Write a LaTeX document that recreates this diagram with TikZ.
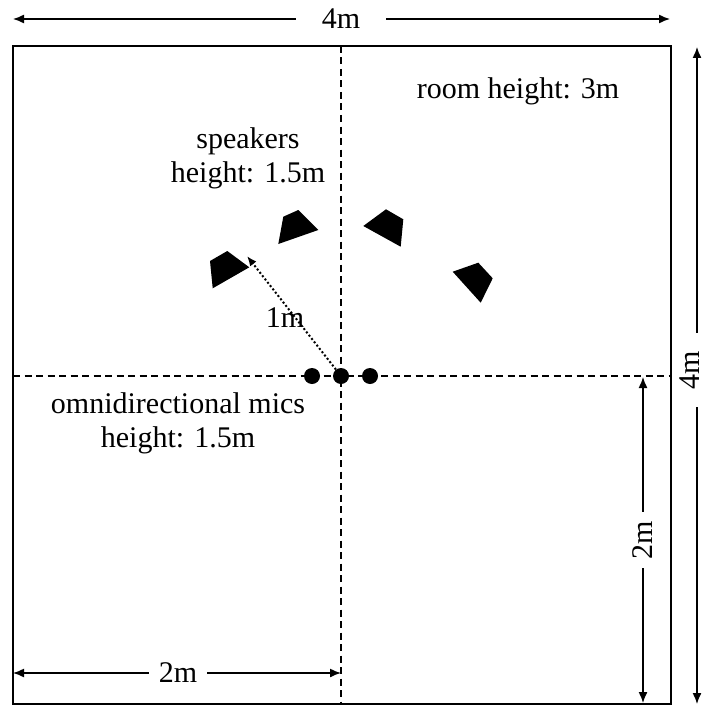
\documentclass[tikz,border=0pt]{standalone}
\usepackage{fontspec}
\setmainfont{Liberation Serif}
\usetikzlibrary{arrows.meta}

\begin{document}
\begin{tikzpicture}[x=1pt,y=-1pt,
  every node/.style={font=\fontsize{30}{34}\selectfont},
  dim/.style={line width=1.4pt,-{Latex[length=11pt,width=9pt]}},
  axis/.style={line width=1.8pt,dash pattern=on 7pt off 4.5pt},
  room/.style={line width=2.8pt},
  mic/.style={circle,fill,inner sep=0pt,minimum size=16pt},
  ray/.style={line width=2pt,dash pattern=on 2pt off 2.2pt,-{Latex[length=10pt,width=8pt]}}]
  \useasboundingbox (0,0) rectangle (701,706);
  % room outline and centre lines
  \coordinate (nw) at (13,46);
  \coordinate (se) at (671,704);
  \coordinate (ntop) at (341,46);
  \coordinate (nbot) at (341,704);
  \coordinate (wmid) at (13,376);
  \coordinate (emid) at (671,376);
  \draw[axis] (ntop)--(nbot);
  \draw[axis] (wmid)--(emid);
  \draw[room] (nw) rectangle (se);
  % speakers
  \fill (210,261)--(227.3,251)--(249.3,267.3)--(212.7,288.3)--cycle;
  \fill (283.3,216.7)--(298.3,210)--(318.3,230)--(278.3,244)--cycle;
  \fill (363.3,226)--(386,209.3)--(403.3,219.3)--(400.7,246.7)--cycle;
  \fill (452.7,271.7)--(478.3,262.7)--(492.7,278.3)--(480.7,302.7)--cycle;
  \coordinate (sptip) at (247,256);
  % mics
  \node[mic](micL) at (312,376) {};
  \node[mic](micC) at (341,376) {};
  \node[mic](micR) at (370,376) {};
  \draw[ray] (micC)--(sptip);
  \node[anchor=base](dist) at (285,327) {1m};
  % labels
  \node[anchor=base](roomh) at (518,99) {room height: 3m};
  \node[align=center](spkh) at (248,158) {speakers\\height: 1.5m};
  \node[align=center](mich) at (178,423) {omnidirectional mics\\height: 1.5m};
  % dimensions
  \coordinate (topL) at (13,19);
  \coordinate (topR) at (670,19);
  \node[inner xsep=26pt](wfull) at (341,19) {4m};
  \draw[dim] (wfull)--(topL);
  \draw[dim] (wfull)--(topR);
  \coordinate (rtop) at (697,47);
  \coordinate (rbot) at (697,704);
  \node[rotate=90,inner xsep=18pt,inner ysep=0pt](hfull) at (690,370) {4m};
  \draw[dim] (rtop |- hfull.east)--(rtop);
  \draw[dim] (rbot |- hfull.west)--(rbot);
  \coordinate (itop) at (643,377);
  \coordinate (ibot) at (643,703);
  \node[rotate=90,inner xsep=9pt](hhalf) at (643,540) {2m};
  \draw[dim] (hhalf)--(itop);
  \draw[dim] (hhalf)--(ibot);
  \coordinate (botL) at (13,673);
  \coordinate (botR) at (341,673);
  \node[inner xsep=10pt](whalf) at (178,673) {2m};
  \draw[dim] (whalf)--(botL);
  \draw[dim] (whalf)--(botR);
\end{tikzpicture}
\end{document}
